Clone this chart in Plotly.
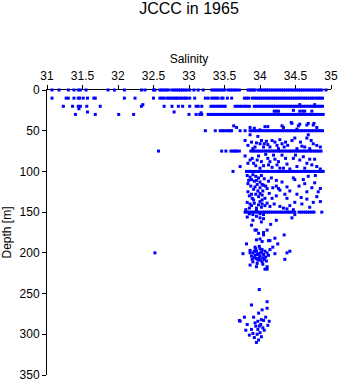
import plotly.graph_objects as go

# ---- data (salinity, depth) ----
sal_0m = [31.07, 31.17, 31.30, 31.38, 31.44, 31.47, 31.55, 31.86, 31.95, 32.09, 32.33, 32.38,
          32.50, 32.52, 32.59, 32.62, 32.65, 32.68, 32.71, 32.76, 32.79, 32.82, 32.85, 32.88,
          32.91, 32.94, 32.97, 33.01, 33.07, 33.13, 33.20, 33.32, 33.35, 33.38, 33.41, 33.44,
          33.47, 33.50, 33.55, 33.58, 33.61, 33.64, 33.67, 33.71, 33.83, 33.86, 33.88, 33.91,
          33.93, 33.98, 34.01, 34.04, 34.07, 34.09, 34.12, 34.15, 34.18, 34.21, 34.24, 34.27,
          34.30, 34.33, 34.36, 34.39, 34.42, 34.45, 34.48, 34.51, 34.54, 34.57, 34.60, 34.63,
          34.66, 34.69, 34.72, 34.75, 34.78, 34.81, 34.84, 34.87, 34.93]
sal_10m = [31.07, 31.27, 31.30, 31.38, 31.44, 31.46, 31.51, 31.57, 31.66, 31.68, 32.09, 32.24,
           32.50, 32.59, 32.62, 32.65, 32.69, 32.72, 32.75, 32.78, 32.81, 32.83, 32.86, 32.89,
           32.92, 32.95, 32.97, 33.01, 33.08, 33.23, 33.27, 33.32, 33.35, 33.38, 33.41, 33.46,
           33.48, 33.54, 33.60, 33.78, 33.81, 33.84, 33.89, 33.92, 33.95, 33.98, 34.01, 34.04,
           34.07, 34.10, 34.13, 34.16, 34.19, 34.22, 34.25, 34.28, 34.31, 34.34, 34.37, 34.40,
           34.43, 34.46, 34.49, 34.52, 34.55, 34.58, 34.61, 34.64, 34.67, 34.70, 34.73, 34.76,
           34.79, 34.82, 34.85, 34.88]
sal_20m = [31.23, 31.36, 31.44, 31.47, 31.56, 31.75, 32.33, 32.65, 32.76, 32.85, 32.91, 33.01,
           33.10, 33.13, 33.18, 33.31, 33.34, 33.37, 33.40, 33.43, 33.46, 33.49, 33.51, 33.65,
           33.68, 33.71, 33.74, 33.78, 33.81, 33.85, 33.92, 33.95, 33.98, 34.01, 34.04, 34.07,
           34.10, 34.13, 34.16, 34.19, 34.22, 34.25, 34.28, 34.31, 34.34, 34.37, 34.40, 34.43,
           34.46, 34.49, 34.52, 34.55, 34.58, 34.61, 34.64, 34.67, 34.70, 34.73, 34.76, 34.79,
           34.82, 34.85, 34.88]
sal_30m = [31.40, 31.68, 32.01, 32.22, 33.00, 33.10, 33.15, 33.18, 33.27, 33.30, 33.33, 33.36,
           33.39, 33.42, 33.45, 33.48, 33.51, 33.54, 33.57, 33.60, 33.63, 33.66, 33.69, 33.72,
           33.75, 33.78, 33.81, 33.84, 33.87, 33.90, 33.93, 33.96, 33.99, 34.02, 34.05, 34.08,
           34.11, 34.14, 34.17, 34.20, 34.23, 34.26, 34.29, 34.32, 34.35, 34.38, 34.41, 34.44,
           34.47, 34.50, 34.53, 34.56, 34.59, 34.62, 34.65, 34.68, 34.71, 34.74, 34.77, 34.80,
           34.83, 34.86, 34.89]
sal_50m = [33.23, 33.37, 33.44, 33.47, 33.50, 33.53, 33.56, 33.58, 33.60, 33.72, 33.79, 33.86,
           33.89, 33.92, 33.95, 33.98, 34.01, 34.04, 34.07, 34.10, 34.13, 34.16, 34.19, 34.22,
           34.25, 34.28, 34.31, 34.34, 34.37, 34.40, 34.43, 34.46, 34.49, 34.52, 34.55, 34.58,
           34.61, 34.64, 34.67, 34.70, 34.73, 34.76, 34.79, 34.82, 34.85, 34.88]
sal_75m = [32.57, 33.46, 33.52, 33.59, 33.62, 33.65, 33.67, 33.71, 33.87, 33.90, 33.93, 33.96,
           33.99, 34.02, 34.05, 34.08, 34.11, 34.14, 34.17, 34.20, 34.23, 34.26, 34.29, 34.32,
           34.35, 34.38, 34.41, 34.44, 34.47, 34.50, 34.53, 34.56, 34.59, 34.62, 34.65, 34.68,
           34.71, 34.74, 34.77, 34.80, 34.83, 34.86]
sal_100m = [33.62, 33.81, 33.84, 33.87, 33.90, 33.93, 33.96, 33.99, 34.02, 34.05, 34.08, 34.11,
            34.14, 34.17, 34.20, 34.23, 34.26, 34.29, 34.32, 34.35, 34.38, 34.41, 34.44, 34.47,
            34.50, 34.53, 34.56, 34.59, 34.62, 34.65, 34.68, 34.71, 34.74, 34.77, 34.80, 34.83,
            34.86, 34.89]
sal_150m = [33.79, 33.82, 33.85, 33.88, 33.91, 33.94, 33.97, 34.00, 34.03, 34.06, 34.09, 34.12,
            34.15, 34.18, 34.21, 34.24, 34.27, 34.30, 34.33, 34.36, 34.39, 34.42, 34.45, 34.49,
            34.55, 34.58, 34.61, 34.64, 34.67, 34.70, 34.73, 34.76, 34.87]

odd_sal = [31.45, 31.57, 32.79, 33.17, 32.35, 34.20, 34.23, 34.26, 34.56, 34.60, 34.63, 34.73,
           34.56, 34.77, 34.47, 34.44, 34.56, 34.68, 34.76,
           33.63, 33.67, 33.86, 33.92, 34.07, 34.11, 34.31, 34.33, 34.45, 34.54, 34.52, 34.66,
           34.75, 34.80, 34.00,
           33.86, 33.97, 33.79, 34.49, 34.68, 33.95, 34.09, 34.11, 34.14, 34.21, 34.24, 34.26,
           34.31, 34.34, 34.39, 34.59, 34.66, 34.75, 34.80, 34.00, 34.05, 34.45, 34.52, 34.70,
           34.85, 33.90,
           33.83, 33.88, 33.93, 34.02, 34.06, 34.17, 34.28, 34.36, 34.57, 34.63, 34.72,
           33.79, 33.91, 33.98, 34.05, 34.11, 34.14, 34.21, 34.24, 34.26, 34.31, 34.38, 34.42,
           34.52, 34.56, 34.61, 34.66, 34.73, 34.80, 34.85, 33.72, 33.86, 34.00, 34.17, 34.47,
           34.70, 33.94, 34.08, 34.33,
           33.83, 33.89, 33.96, 34.02, 34.12, 34.19, 34.28, 34.36, 34.50, 34.63, 34.77,
           33.84, 33.88, 33.92, 33.95, 34.00, 34.03, 34.05, 33.93, 34.10, 34.03, 33.91, 34.17,
           34.23, 34.23, 34.26, 34.28, 34.38, 34.42, 34.47, 34.49, 34.61, 34.68, 34.77, 34.73,
           34.85, 34.52, 34.66, 34.82, 34.23, 34.38, 34.49, 34.66, 34.75, 34.85, 34.00, 34.03,
           34.07, 34.10, 34.14, 34.28, 34.33, 34.38, 34.42, 34.47, 33.86, 33.83, 33.88, 33.97,
           34.13, 34.31, 34.55, 34.59, 34.70, 34.80, 33.98, 34.07, 33.85, 33.95,
           33.82, 33.86, 33.90, 33.94, 33.98, 34.02, 34.06, 33.83, 33.87, 33.91, 33.96, 34.00,
           34.04, 33.85, 33.89, 33.94, 34.00, 34.03, 33.82, 33.88, 33.92, 33.98, 34.02, 34.08,
           34.12, 34.16, 34.18, 34.20, 34.35, 34.58, 34.63, 34.78,
           33.80, 33.85, 33.90, 33.95, 34.00, 34.05,
           33.95, 34.00, 34.05, 33.88, 33.95, 34.10, 34.05, 34.23, 34.45, 34.49, 33.93, 33.98,
           34.05, 34.34, 33.82, 33.90, 34.02, 34.15,
           33.95, 33.81, 34.00, 34.03, 34.12, 34.14, 34.21, 34.25, 33.76, 33.86, 33.86, 33.93,
           33.95, 34.03, 34.10, 34.10, 34.14, 34.21, 34.18, 34.38, 34.42, 34.35, 33.86, 33.95,
           34.07, 33.90, 33.93, 33.95, 33.98, 34.00, 34.02, 34.05, 34.08, 34.10, 33.92, 33.97,
           34.03, 34.06, 33.88, 34.00, 33.99, 34.12, 34.01, 33.96, 34.04, 33.90, 32.52,
           33.92, 33.96, 34.01, 34.04, 33.94, 34.07, 33.89, 33.99, 34.09,
           33.99, 34.10, 33.88, 34.10, 34.03, 33.98, 33.72,
           33.71, 33.78, 33.82, 33.91, 33.97, 34.02, 34.08, 34.13, 33.88, 33.94, 34.00, 34.04,
           33.80, 34.11, 33.85, 33.92, 33.98, 34.02, 33.95, 33.90, 33.97, 34.01,
           33.93, 33.99, 34.06, 33.96, 34.05]
odd_depth = [23, 27, 27, 28, 18, 26, 26, 26, 26, 26, 26, 26,
             18, 18, 25, 40, 42, 41, 41,
             44, 46, 46, 47, 45, 45, 44, 46, 41, 44, 48, 43,
             43, 46, 49,
             55, 57, 62, 59, 55, 65, 63, 67, 70, 64, 68, 72,
             66, 70, 68, 69, 59, 66, 68, 66, 70, 62, 72, 72,
             70, 72,
             68, 64, 70, 62, 66, 62, 61, 64, 64, 70, 62,
             81, 90, 81, 93, 84, 88, 85, 92, 88, 80, 91, 97,
             94, 86, 82, 90, 92, 94, 97, 94, 86, 96, 95, 84,
             85, 93, 79, 96,
             90, 84, 86, 88, 92, 80, 96, 84, 80, 96, 85,
             111, 110, 112, 111, 113, 116, 117, 119, 121, 129, 135, 133,
             111, 118, 121, 123, 119, 124, 108, 110, 110, 106, 114, 120,
             121, 128, 125, 125, 130, 133, 138, 134, 138, 137, 137, 140,
             142, 139, 143, 143, 145, 146, 142, 147, 140, 125, 128, 124,
             127, 113, 118, 140, 144, 131, 131, 133, 145, 145,
             105, 107, 104, 106, 108, 105, 109, 115, 118, 122, 116, 120,
             124, 130, 133, 128, 127, 135, 138, 142, 139, 141, 144, 118,
             112, 108, 120, 140, 128, 132, 115, 105,
             147, 152, 153, 147, 152, 153,
             155, 157, 158, 166, 172, 172, 175, 160, 157, 153, 172, 176,
             178, 178, 156, 160, 162, 165,
             184, 189, 183, 186, 185, 185, 182, 189, 201, 197, 200, 193,
             207, 211, 217, 220, 196, 201, 193, 200, 198, 208, 215, 217,
             220, 200, 203, 198, 201, 204, 199, 202, 205, 200, 206, 209,
             196, 208, 204, 195, 192, 203, 209, 213, 214, 211, 200,
             198, 202, 200, 206, 195, 198, 208, 206, 210,
             245, 260, 264, 268, 270, 274, 284,
             283, 279, 288, 279, 284, 282, 279, 284, 294, 290, 298, 292,
             295, 289, 301, 304, 307, 303, 310, 299, 294, 288,
             286, 290, 295, 300, 283]

x_ticks = [31, 31.5, 32, 32.5, 33, 33.5, 34, 34.5, 35]
y_ticks = [0, 50, 100, 150, 200, 250, 300, 350]

# assemble
levels = [(0, sal_0m), (10, sal_10m), (20, sal_20m), (30, sal_30m), (50, sal_50m),
          (75, sal_75m), (100, sal_100m), (150, sal_150m)]
xs, ys = [], []
for d, sal in levels:
    xs += sal
    ys += [d] * len(sal)
xs += odd_sal
ys += odd_depth

fig = go.Figure(go.Scatter(
    x=xs, y=ys, mode="markers", cliponaxis=False,
    marker=dict(symbol="square", size=3, color="#0000FF", line=dict(width=0)),
    hoverinfo="skip"))

font = "Arial, Liberation Sans, sans-serif"
fig.update_layout(
    width=341, height=384,
    margin=dict(l=47, r=10, t=90, b=9),
    paper_bgcolor="white", plot_bgcolor="white",
    showlegend=False,
    font=dict(family=font, size=12, color="black"),
    title=dict(text="JCCC in 1965", x=(47 + 331) / 2 / 341, xanchor="center",
               y=1 - 8.5 / 384, yanchor="middle", yref="container",
               font=dict(family=font, size=16, color="black")),
    xaxis=dict(side="top", range=[31, 35], tickvals=x_ticks,
               ticktext=[f"{v:g}" for v in x_ticks],
               ticks="outside", ticklen=4, tickcolor="black", tickwidth=1,
               showline=True, linecolor="black", linewidth=1, mirror=False,
               showgrid=False, zeroline=False, layer="below traces",
               automargin=False,
               title=dict(text="Salinity", standoff=3, font=dict(size=12)),
               tickfont=dict(size=12)),
    yaxis=dict(range=[350, 0], tickvals=y_ticks,
               ticks="outside", ticklen=4, tickcolor="black", tickwidth=1,
               showline=True, linecolor="black", linewidth=1, mirror=False,
               showgrid=False, zeroline=False, layer="below traces",
               automargin=False,
               title=dict(text="Depth [m]", standoff=6, font=dict(size=12)),
               tickfont=dict(size=12)),
)

fig.write_html("out.html")
